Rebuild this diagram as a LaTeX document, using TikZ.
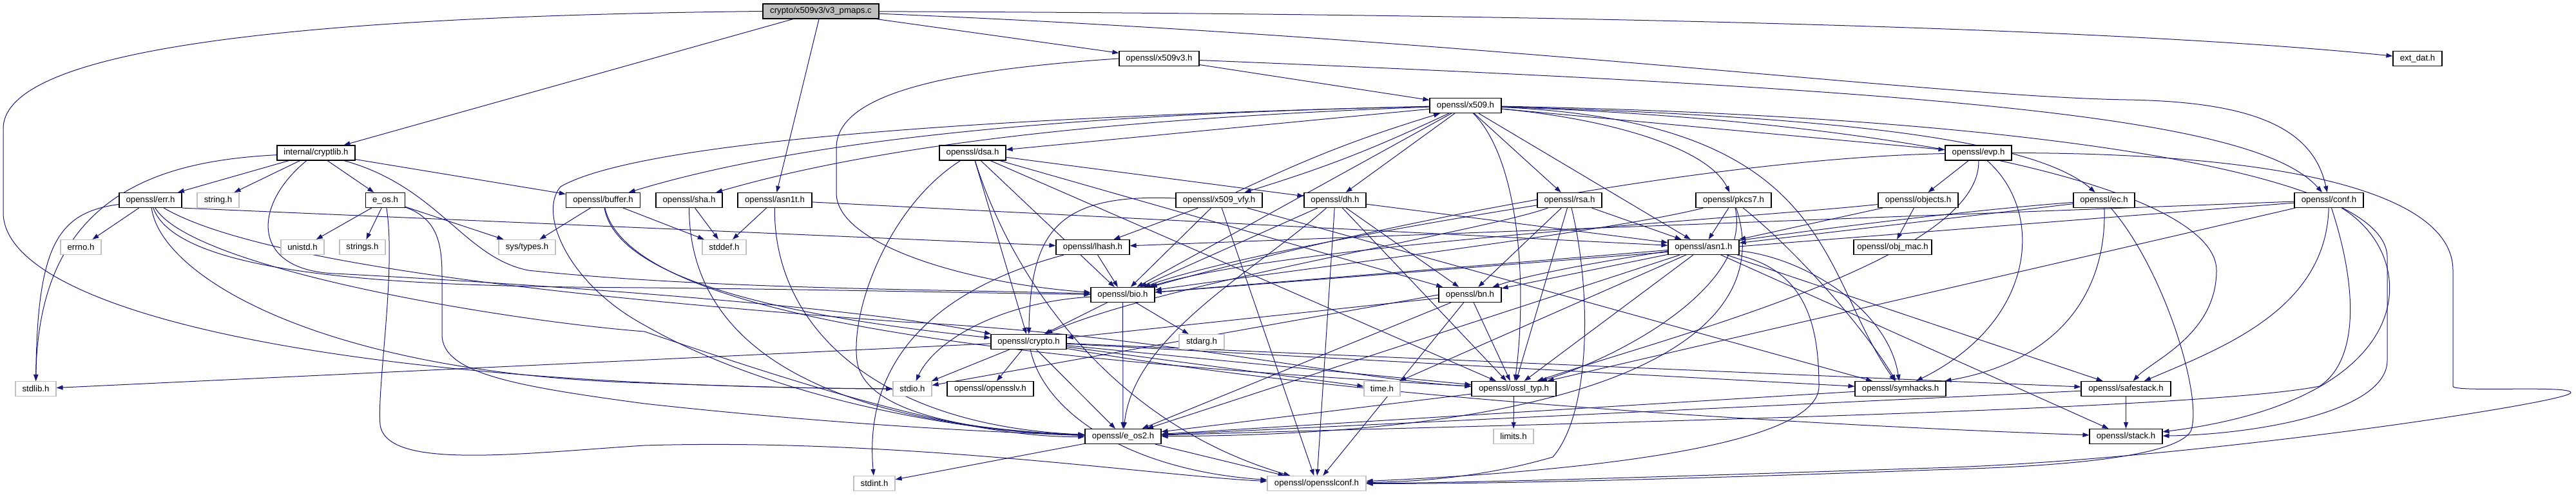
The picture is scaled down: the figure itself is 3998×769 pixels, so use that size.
\documentclass[tikz,border=0pt]{standalone}
\usepackage{fontspec}
\setmainfont{Liberation Sans}
\usetikzlibrary{arrows.meta}
\pgfdeclarelayer{bg}
\pgfsetlayers{bg,main}
\definecolor{edgecol}{HTML}{191970}
\definecolor{sysgray}{HTML}{BFBFBF}
\tikzset{
  hdr/.style={draw=black, line width=1.2bp, fill=white, minimum height=23bp, inner sep=0pt,
              font=\fontsize{13.3}{15}\selectfont, text=black},
  sys/.style={hdr, draw=sysgray},
  root/.style={hdr, fill=sysgray},
  e/.style={draw=edgecol, line width=1bp, -{Triangle[length=10bp,width=7bp]}},
}
\begin{document}
\begin{tikzpicture}[x=1bp,y=-1bp]
\useasboundingbox (0,0) rectangle (3998,769);
% ---------- nodes ----------
\node[root, minimum width=180bp] (pmaps) at (1274,17.5) {crypto/x509v3/v3\_pmaps.c};
\node[hdr, minimum width=124bp] (x509v3) at (1799,91) {openssl/x509v3.h};
\node[hdr, minimum width=76bp] (extdat) at (3752,91) {ext\_dat.h};
\node[hdr, minimum width=111bp] (x509) at (2274.5,164) {openssl/x509.h};
\node[hdr, minimum width=121bp] (cryptlib) at (490.5,237.5) {internal/cryptlib.h};
\node[hdr, minimum width=103bp] (dsa) at (1509.5,237.5) {openssl/dsa.h};
\node[hdr, minimum width=103bp] (evp) at (3070.5,237.5) {openssl/evp.h};
\node[hdr, minimum width=97bp] (err) at (233.5,311) {openssl/err.h};
\node[sys, minimum width=65bp] (string) at (338.5,311) {string.h};
\node[hdr, minimum width=61bp] (eos) at (598,311) {e\_os.h};
\node[hdr, minimum width=115bp] (buffer) at (936,311) {openssl/buffer.h};
\node[hdr, minimum width=103bp] (sha) at (1069.5,311) {openssl/sha.h};
\node[hdr, minimum width=115bp] (asn1t) at (1202.5,311) {openssl/asn1t.h};
\node[hdr, minimum width=134bp] (x509vfy) at (1892,311) {openssl/x509\_vfy.h};
\node[hdr, minimum width=96bp] (dh) at (2072,311) {openssl/dh.h};
\node[hdr, minimum width=100bp] (rsa) at (2436,311) {openssl/rsa.h};
\node[hdr, minimum width=117bp] (pkcs7) at (2690.5,311) {openssl/pkcs7.h};
\node[hdr, minimum width=124bp] (objects) at (2977,311) {openssl/objects.h};
\node[hdr, minimum width=95bp] (ec) at (3265.5,311) {openssl/ec.h};
\node[hdr, minimum width=107bp] (conf) at (3614.5,311) {openssl/conf.h};
\node[sys, minimum width=63bp] (errno) at (125.5,384) {errno.h};
\node[sys, minimum width=67bp] (unistd) at (469.5,384) {unistd.h};
\node[sys, minimum width=71bp] (strings) at (562.5,384) {strings.h};
\node[sys, minimum width=88bp] (systypes) at (818,384) {sys/types.h};
\node[sys, minimum width=68bp] (stddef) at (1124,384) {stddef.h};
\node[hdr, minimum width=114bp] (lhash) at (1696,384) {openssl/lhash.h};
\node[hdr, minimum width=110bp] (asn1) at (2644,384) {openssl/asn1.h};
\node[hdr, minimum width=121bp] (objmac) at (2937.5,384) {openssl/obj\_mac.h};
\node[hdr, minimum width=99bp] (bio) at (1742.5,458) {openssl/bio.h};
\node[hdr, minimum width=97bp] (bn) at (2281.5,458) {openssl/bn.h};
\node[hdr, minimum width=117bp] (crypto) at (1596.5,531) {openssl/crypto.h};
\node[sys, minimum width=70bp] (stdarg) at (1865,531) {stdarg.h};
\node[sys, minimum width=63bp] (stdlib) at (55.5,604) {stdlib.h};
\node[sys, minimum width=60bp] (stdio) at (1416,604) {stdio.h};
\node[hdr, minimum width=134bp] (opensslv) at (1537,604) {openssl/opensslv.h};
\node[sys, minimum width=56bp] (time) at (2145,604) {time.h};
\node[hdr, minimum width=131bp] (ssltyp) at (2349.5,604) {openssl/ossl\_typ.h};
\node[hdr, minimum width=141bp] (symhacks) at (2949.5,604) {openssl/symhacks.h};
\node[hdr, minimum width=139bp] (safestack) at (3299.5,604) {openssl/safestack.h};
\node[hdr, minimum width=118bp] (eos2) at (1743,678) {openssl/e\_os2.h};
\node[sys, minimum width=62bp] (limits) at (2349,678) {limits.h};
\node[hdr, minimum width=113bp] (stack) at (3299.5,678) {openssl/stack.h};
\node[sys, minimum width=64bp] (stdint) at (1357,751) {stdint.h};
\node[sys, minimum width=153bp] (opensslconf) at (2043.5,751) {openssl/opensslconf.h};
% ---------- edges ----------
\begin{pgfonlayer}{bg}
\fill[white] (0,0) rectangle (3998,769);
% v3_pmaps.c
\draw[e] (pmaps.west) .. controls (500,25) and (5,70) .. (5,200) -- (5,330) .. controls (5,480) and (500,600) .. (stdio);
\draw[e] (pmaps) -- (cryptlib);
\draw[e] (pmaps) -- (asn1t);
\draw[e] (pmaps) -- (x509v3);
\draw[e] (pmaps) .. controls (2500,22) and (3300,45) .. (extdat);
\draw[e] (pmaps) .. controls (2300,60) and (3000,150) .. (3300,155) .. controls (3500,158) and (3590,200) .. (conf);
% x509v3.h
\draw[e] (x509v3) -- (x509);
\draw[e] (x509v3) .. controls (3000,140) and (3500,180) .. (conf);
\draw[e] (x509v3.west) .. controls (1450,110) and (1298,150) .. (1298,230) -- (1298,300) .. controls (1298,380) and (1500,440) .. (bio);
% x509.h
\draw[e] (x509) .. controls (1800,175) and (1300,200) .. (buffer);
\draw[e] (x509) .. controls (1800,182) and (1400,215) .. (sha);
\draw[e] (x509) -- (dsa);
\draw[e] (x509) -- (bio);
\draw[e] (x509) .. controls (1600,180) and (1000,215) .. (870,290) .. controls (835,330) and (880,440) .. (1000,505) .. controls (1200,620) and (1500,672) .. (eos2);
\draw[e] (x509) to[bend left=4] (x509vfy);
\draw[e] (x509vfy) to[bend left=4] (x509);
\draw[e] (x509) -- (dh);
\draw[e] (x509) -- (rsa);
\draw[e] (x509) -- (asn1);
\draw[e] (x509) .. controls (2500,185) and (2650,230) .. (pkcs7);
\draw[e] (x509) -- (evp);
\draw[e] (x509) .. controls (2800,180) and (3150,210) .. (ec);
\draw[e] (x509) .. controls (2850,190) and (2820,420) .. (symhacks);
\draw[e] (x509) .. controls (3000,190) and (3440,300) .. (3440,420) .. controls (3440,520) and (3340,560) .. (safestack);
\draw[e] (x509) .. controls (3100,180) and (3705,260) .. (3705,400) -- (3705,560) .. controls (3705,640) and (3500,675) .. (stack);
\draw[e] (x509) .. controls (2360,250) and (2370,450) .. (ssltyp);
% x509_vfy.h
\draw[e] (x509vfy) -- (opensslconf);
\draw[e] (x509vfy) -- (lhash);
\draw[e] (x509vfy) -- (bio);
\draw[e] (x509vfy) .. controls (1640,300) and (1600,360) .. (crypto);
\draw[e] (x509vfy) -- (symhacks);
% internal/cryptlib.h
\draw[e] (cryptlib) .. controls (250,250) and (60,300) .. (stdlib);
\draw[e] (cryptlib) -- (string);
\draw[e] (cryptlib) -- (eos);
\draw[e] (cryptlib) -- (err);
\draw[e] (cryptlib) -- (buffer);
\draw[e] (cryptlib) .. controls (390,320) and (390,420) .. (520,425) .. controls (900,445) and (1350,480) .. (crypto);
\draw[e] (cryptlib) .. controls (680,290) and (720,400) .. (820,420) .. controls (1100,450) and (1500,450) .. (bio);
% dsa.h
\draw[e] (dsa) .. controls (1560,400) and (1700,650) .. (opensslconf);
\draw[e] (dsa) .. controls (1380,320) and (1320,480) .. (1330,560) .. controls (1340,640) and (1500,670) .. (eos2);
\draw[e] (dsa) -- (bio);
\draw[e] (dsa) -- (crypto);
\draw[e] (dsa) -- (ssltyp);
\draw[e] (dsa) -- (bn);
\draw[e] (dsa) -- (dh);
% evp.h
\draw[e] (evp) .. controls (3550,238) and (3807,300) .. (3807,420) -- (3807,600) .. controls (3807,610) and (3990,598) .. (3990,610) .. controls (3990,625) and (3400,715) .. (3000,727) .. controls (2600,740) and (2300,750) .. (opensslconf);
\draw[e] (evp) .. controls (3075,400) and (2600,520) .. (ssltyp);
\draw[e] (evp) .. controls (3175,330) and (3160,500) .. (symhacks);
\draw[e] (evp) .. controls (2700,245) and (2200,330) .. (bio);
\draw[e] (evp) -- (objects);
% err.h
\draw[e] (err) -- (errno);
\draw[e] (err) .. controls (90,330) and (58,380) .. (stdlib);
\draw[e] (err) .. controls (250,430) and (500,580) .. (1000,595) .. controls (1200,602) and (1300,604) .. (stdio);
\draw[e] (err.south east) -- (lhash);
\draw[e] (err) .. controls (280,440) and (700,445) .. (1000,447) .. controls (1300,450) and (1500,455) .. (bio);
\draw[e] (err) .. controls (300,420) and (800,500) .. (1000,515) .. controls (1250,600) and (1500,680) .. (eos2);
\draw[e] (err) .. controls (420,420) and (1000,470) .. (1400,500) .. controls (1800,520) and (2100,590) .. (ssltyp);
% e_os.h
\draw[e] (eos) -- (unistd);
\draw[e] (eos) -- (strings);
\draw[e] (eos) -- (systypes);
\draw[e] (eos) .. controls (680,340) and (686,380) .. (686,430) -- (686,520) .. controls (686,580) and (800,600) .. (1000,627) .. controls (1300,660) and (1550,672) .. (eos2);
\draw[e] (eos) .. controls (615,420) and (585,600) .. (590,660) .. controls (600,730) and (800,705) .. (1000,692) .. controls (1400,680) and (1800,740) .. (opensslconf);
% buffer.h
\draw[e] (buffer) -- (systypes);
\draw[e] (buffer) -- (stddef);
\draw[e] (buffer) .. controls (960,450) and (1300,500) .. (crypto);
\draw[e] (buffer) .. controls (980,500) and (1600,560) .. (ssltyp);
% sha.h
\draw[e] (sha) -- (stddef);
\draw[e] (sha) .. controls (1070,550) and (1300,660) .. (eos2);
% asn1t.h
\draw[e] (asn1t) -- (stddef);
\draw[e] (asn1t) .. controls (1200,500) and (1350,660) .. (eos2);
\draw[e] (asn1t) -- (asn1);
% dh.h
\draw[e] (dh) -- (opensslconf);
\draw[e] (dh) .. controls (1950,420) and (1760,520) .. (eos2);
\draw[e] (dh) -- (bio);
\draw[e] (dh) -- (asn1);
\draw[e] (dh) -- (ssltyp);
\draw[e] (dh) -- (bn);
% rsa.h
\draw[e] (rsa) .. controls (2470,450) and (2470,640) .. (2410,710) .. controls (2300,742) and (2200,748) .. (opensslconf);
\draw[e] (rsa) -- (asn1);
\draw[e] (rsa) .. controls (2250,340) and (1900,400) .. (bio);
\draw[e] (rsa) .. controls (2300,360) and (1800,440) .. (crypto);
\draw[e] (rsa) -- (ssltyp);
\draw[e] (rsa) -- (bn);
% pkcs7.h
\draw[e] (pkcs7) -- (asn1);
\draw[e] (pkcs7) .. controls (2500,360) and (2000,420) .. (bio);
\draw[e] (pkcs7) .. controls (2760,520) and (2500,675) .. (eos2);
\draw[e] (pkcs7) .. controls (2800,400) and (2900,520) .. (symhacks);
\draw[e] (pkcs7) .. controls (2720,450) and (2500,560) .. (ssltyp);
% objects.h
\draw[e] (objects) -- (objmac);
\draw[e] (objects) .. controls (2700,340) and (2000,380) .. (bio);
\draw[e] (objects) -- (asn1);
% ec.h
\draw[e] (ec) .. controls (3000,330) and (2450,400) .. (bn);
\draw[e] (ec) -- (asn1);
\draw[e] (ec) .. controls (3270,450) and (3200,560) .. (symhacks);
\draw[e] (ec) .. controls (3360,420) and (3420,620) .. (3400,670) .. controls (3370,720) and (3100,727) .. (3000,730) .. controls (2600,745) and (2300,752) .. (opensslconf);
% conf.h
\draw[e] (conf) -- (bio);
\draw[e] (conf) -- (lhash);
\draw[e] (conf) .. controls (3760,400) and (3760,620) .. (stack);
\draw[e] (conf) .. controls (3610,480) and (3450,540) .. (safestack);
\draw[e] (conf) .. controls (3660,450) and (3660,560) .. (3600,600) .. controls (3400,640) and (2300,660) .. (eos2);
\draw[e] (conf) -- (ssltyp);
% lhash.h
\draw[e] (lhash) .. controls (1450,450) and (1340,560) .. (stdint);
\draw[e] (lhash) -- (bio);
% asn1.h
\draw[e] (asn1) -- (time);
\draw[e] (asn1) -- (eos2);
\draw[e] (asn1) .. controls (2800,420) and (2823,500) .. (2823,600) .. controls (2823,700) and (2400,735) .. (opensslconf);
\draw[e] (asn1) -- (bio);
\draw[e] (asn1) -- (stack);
\draw[e] (asn1) -- (safestack);
\draw[e] (asn1) .. controls (2800,400) and (2930,480) .. (symhacks);
\draw[e] (asn1) -- (ssltyp);
\draw[e] (asn1) -- (bn);
% bio.h
\draw[e] (bio) -- (eos2);
\draw[e] (bio) .. controls (1550,470) and (1450,530) .. (stdio);
\draw[e] (bio) -- (stdarg);
\draw[e] (bio) -- (crypto);
% bn.h
\draw[e] (bn) -- (eos2);
\draw[e] (bn.west) -- (stdio);
\draw[e] (bn) -- (opensslconf);
\draw[e] (bn) -- (ssltyp);
\draw[e] (bn) -- (crypto);
% crypto.h
\draw[e] (crypto) -- (stdlib);
\draw[e] (crypto) -- (time);
\draw[e] (crypto) -- (eos2);
\draw[e] (crypto) -- (stdio);
\draw[e] (crypto) .. controls (2100,620) and (2800,660) .. (stack);
\draw[e] (crypto) -- (safestack);
\draw[e] (crypto) -- (opensslv);
\draw[e] (crypto) -- (ssltyp);
\draw[e] (crypto) .. controls (1620,640) and (1750,730) .. (opensslconf);
\draw[e] (crypto) -- (symhacks);
% small ones
\draw[e] (ssltyp) -- (eos2);
\draw[e] (ssltyp) -- (limits);
\draw[e] (symhacks) -- (eos2);
\draw[e] (safestack) -- (stack);
\draw[e] (safestack) -- (eos2);
\draw[e] (eos2) -- (opensslconf);
\draw[e] (eos2) -- (stdint);
\end{pgfonlayer}
\end{tikzpicture}
\end{document}
